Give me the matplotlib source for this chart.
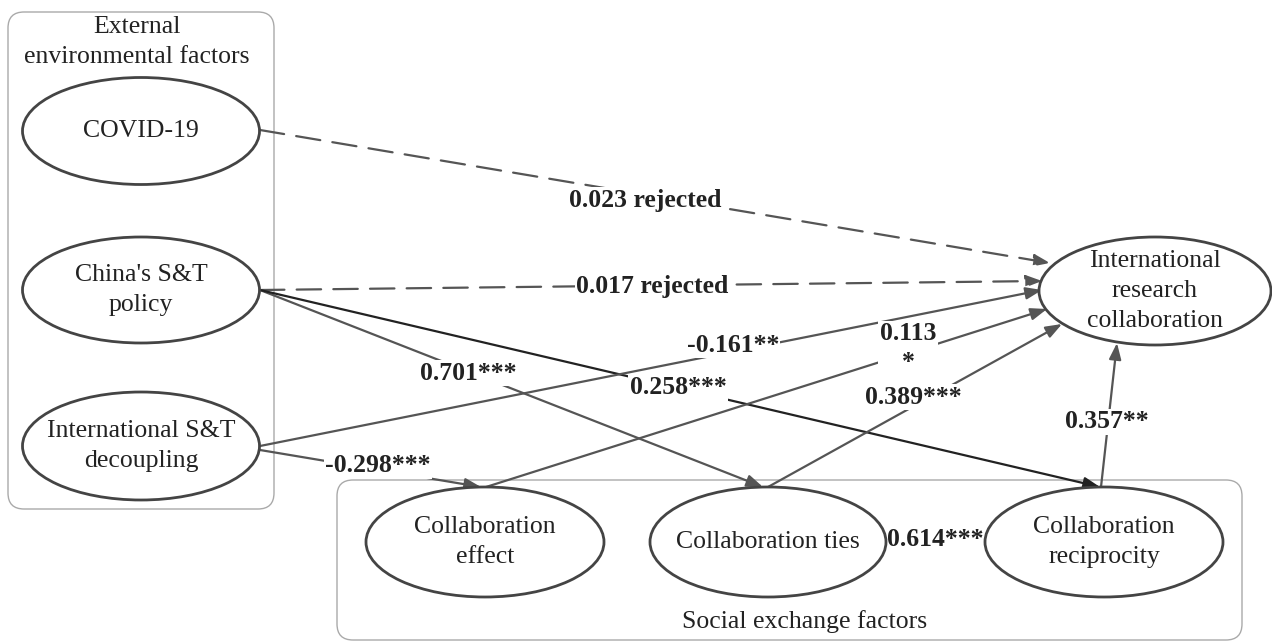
import matplotlib.pyplot as plt
from matplotlib.patches import Ellipse, FancyBboxPatch

plt.rcParams['font.family'] = ['Liberation Serif', 'DejaVu Serif']

# constructs (node labels)
nodes = ["COVID-19", "China's S&T\npolicy", "International S&T\ndecoupling",
         "International\nresearch\ncollaboration",
         "Collaboration\neffect", "Collaboration ties", "Collaboration\nreciprocity"]
group_titles = ["External\nenvironmental factors", "Social exchange factors"]

# path coefficients: (from, to, value, stars, rejected)
path_from = [0, 1, 1, 1, 2, 2, 4, 5, 6]
path_to = [3, 3, 5, 6, 3, 4, 3, 3, 3]
path_value = [0.023, 0.017, 0.701, 0.258, -0.161, -0.298, 0.113, 0.389, 0.357]
path_stars = ["", "", "***", "***", "**", "***", "*", "***", "**"]
path_rejected = [True, True, False, False, False, False, False, False, False]
ties_recip_value = 0.614
ties_recip_stars = "***"

# ---- layout (pixel coords) ----
W, H = 1272, 643
centers = [(141, 131), (141, 290), (141, 446), (1155, 291),
           (485, 542), (768, 542), (1104, 542)]
sizes = [(237, 107), (237, 106), (237, 108), (232, 108),
         (238, 110), (236, 110), (238, 110)]
starts = [(260, 130), (260, 290), (260, 290), (260, 290), (260, 446),
          (260, 450), (486, 487), (768, 487), (1101, 487)]
tips = [(1050, 263), (1042, 281), (763, 487), (1100, 487), (1042, 290),
        (481, 487), (1047, 309), (1062, 324), (1117, 343)]
label_pos = [(645, 200), (652, 287), (468, 373), (678, 388), (733, 345),
             (378, 466), (908, 348), (913, 397), (1107, 422)]
line_cols = ['#555555'] * 9
line_cols[3] = '#222222'

fig = plt.figure(figsize=(W / 100, H / 100), dpi=100)
ax = fig.add_axes([0, 0, 1, 1])
ax.set_xlim(0, W)
ax.set_ylim(H, 0)
ax.axis('off')

# group boxes
ax.add_patch(FancyBboxPatch((8, 12), 266, 497, boxstyle="round,pad=0,rounding_size=16",
                            fc='none', ec='#aaaaaa', lw=1))
ax.add_patch(FancyBboxPatch((337, 480), 905, 160, boxstyle="round,pad=0,rounding_size=16",
                            fc='none', ec='#aaaaaa', lw=1))
ax.text(137, 42, group_titles[0], ha='center', va='center', fontsize=18.5,
        color='#222222', linespacing=1.45)
ax.text(805, 622, group_titles[1], ha='center', va='center', fontsize=18.5, color='#222222')

# ellipses
for name, (cx, cy), (w, h) in zip(nodes, centers, sizes):
    ax.add_patch(Ellipse((cx, cy), w, h, fc='white', ec='#444444', lw=2, zorder=3))
    ax.text(cx, cy, name, ha='center', va='center', fontsize=18.5, color='#222222',
            linespacing=1.48, zorder=4)

# paths
for i in range(len(path_from)):
    ls = (0, (11, 5.5)) if path_rejected[i] else '-'
    ax.annotate('', xy=tips[i], xytext=starts[i], zorder=2,
                arrowprops=dict(arrowstyle='-|>,head_length=0.75,head_width=0.28',
                                color=line_cols[i], lw=1.6,
                                linestyle=ls, shrinkA=0, shrinkB=0,
                                mutation_scale=13))
    txt = "%.3f" % path_value[i]
    if path_rejected[i]:
        txt += " rejected"
    elif path_value[i] == 0.113:
        txt += "\n" + path_stars[i]
    else:
        txt += path_stars[i]
    ax.text(label_pos[i][0], label_pos[i][1], txt, ha='center', va='center',
            fontsize=18.5, fontweight='bold', color='#222222', zorder=5,
            linespacing=1.3,
            bbox=dict(facecolor='white', edgecolor='none', pad=1))

ax.text(935, 540, "%.3f%s" % (ties_recip_value, ties_recip_stars), ha='center',
        va='center', fontsize=18.5, fontweight='bold', color='#222222', zorder=5)

fig.savefig('out.png', dpi=100)
